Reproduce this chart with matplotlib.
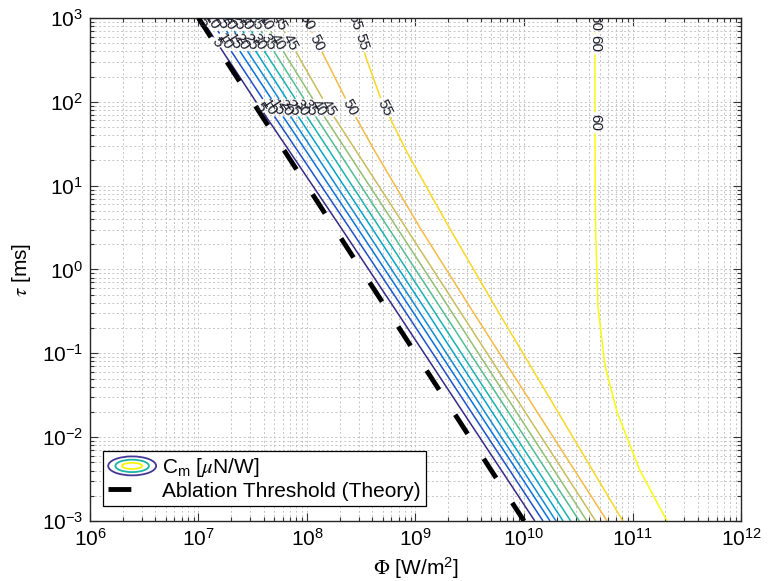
import numpy as np
import matplotlib
matplotlib.use("Agg")
import matplotlib.pyplot as plt
from matplotlib.colors import LinearSegmentedColormap
from matplotlib.legend_handler import HandlerBase
from matplotlib.patches import Ellipse, Patch
from matplotlib.ticker import FixedLocator, NullFormatter, LogFormatterMathtext

plt.rcParams["font.family"] = ["Liberation Sans", "DejaVu Sans"]
plt.rcParams["mathtext.fontset"] = "stix"
plt.rcParams["mathtext.default"] = "regular"

# ---------------------------------------------------------------------------
# Data: coupling-coefficient iso-lines C_m [uN/W] over intensity Phi and pulse
# duration tau.  Each list gives log10(Phi [W/m^2]) where the iso-line crosses
# the pulse durations in tau_rows_log (log10 of tau in ms).
# ---------------------------------------------------------------------------
cm_levels = [5, 10, 15, 20, 25, 30, 35, 40, 45, 50, 55, 60]
tau_rows_log = [-3.0, -2.4, -1.7, -1.15, -0.45, 0.5, 1.4, 2.0, 2.5, 3.0]

cm05 = [10.100, 9.794, 9.437, 9.157, 8.800, 8.312, 7.844, 7.530, 7.275, 7.020]
cm10 = [10.175, 9.870, 9.514, 9.235, 8.879, 8.390, 7.922, 7.610, 7.355, 7.100]
cm15 = [10.240, 9.936, 9.581, 9.303, 8.948, 8.462, 7.999, 7.690, 7.435, 7.180]
cm20 = [10.295, 9.992, 9.639, 9.361, 9.008, 8.526, 8.066, 7.760, 7.505, 7.250]
cm25 = [10.360, 10.058, 9.706, 9.429, 9.077, 8.595, 8.136, 7.830, 7.580, 7.330]
cm30 = [10.430, 10.128, 9.776, 9.499, 9.147, 8.668, 8.214, 7.910, 7.660, 7.410]
cm35 = [10.510, 10.208, 9.856, 9.579, 9.227, 8.748, 8.294, 7.990, 7.745, 7.500]
cm40 = [10.580, 10.280, 9.930, 9.655, 9.305, 8.828, 8.373, 8.070, 7.830, 7.590]
cm45 = [10.660, 10.360, 10.010, 9.735, 9.385, 8.910, 8.460, 8.160, 7.940, 7.720]
cm50 = [10.765, 10.468, 10.121, 9.849, 9.502, 9.040, 8.630, 8.370, 8.175, 7.980]
cm55 = [10.910, 10.634, 10.312, 10.059, 9.737, 9.310, 8.920, 8.690, 8.550, 8.430]
cm60 = [11.318, 11.069, 10.857, 10.747, 10.682, 10.660, 10.655, 10.654, 10.654, 10.654]
cm_curves = [cm05, cm10, cm15, cm20, cm25, cm30, cm35, cm40, cm45, cm50, cm55, cm60]

# theoretical ablation threshold
tau_threshold = [1e3, 1e-3]   # ms
phi_threshold = [1e7, 1e10]   # W/m^2

# axis decades
phi_decades = [6, 7, 8, 9, 10, 11, 12]
tau_decades = [-3, -2, -1, 0, 1, 2, 3]

# where the inline level labels sit (log10 tau)
label_rows = [2.95, 2.71, 1.93]
label_rows_60 = [2.95, 2.69, 1.75]

# ---------------------------------------------------------------------------
# MATLAB parula colour map
parula_pts = [
    [0.2081, 0.1663, 0.5292], [0.1959, 0.2645, 0.7279], [0.0117, 0.3875, 0.8820],
    [0.0498, 0.4586, 0.8641], [0.0793, 0.5200, 0.8312], [0.0343, 0.5966, 0.8199],
    [0.0228, 0.6535, 0.7768], [0.0843, 0.6928, 0.7062], [0.2178, 0.7250, 0.6193],
    [0.3953, 0.7459, 0.5244], [0.5709, 0.7485, 0.4494], [0.7184, 0.7411, 0.3905],
    [0.8507, 0.7299, 0.3360], [0.9739, 0.7314, 0.2666], [0.9880, 0.8066, 0.1794],
    [0.9598, 0.9218, 0.0948], [0.9763, 0.9831, 0.0538]]
parula_pos = [i * 4 / 63 for i in range(16)] + [1.0]
parula = LinearSegmentedColormap.from_list("parula", list(zip(parula_pos, parula_pts)))

# ---------------------------------------------------------------------------
# Build the C_m surface on a log grid so that each level passes through its
# tabulated crossings.
log_tau = np.linspace(-3, 3, 601)
log_phi = np.linspace(6, 12, 1201)
thr_log_tau = np.log10(tau_threshold)[::-1]
thr_log_phi = np.log10(phi_threshold)[::-1]
Z = np.empty((log_tau.size, log_phi.size))
for i, t in enumerate(log_tau):
    s_thr = np.interp(t, thr_log_tau, thr_log_phi)
    nodes = [s_thr] + [np.interp(t, tau_rows_log, c) for c in cm_curves] + [12.5]
    vals = [0.0] + list(cm_levels) + [70.0]
    Z[i] = np.interp(log_phi, nodes, vals)
PHI, TAU = np.meshgrid(10 ** log_phi, 10 ** log_tau)

fig = plt.figure(figsize=(7.69, 5.81), dpi=100)
ax = fig.add_axes([0.117, 0.1033, 0.8466, 0.8657])
ax.set_xscale("log")
ax.set_yscale("log")

cs = ax.contour(PHI, TAU, Z, levels=cm_levels, cmap=parula, vmin=5, vmax=60,
                linewidths=1.1, zorder=2)

# inline labels
pts = []
for lev, curve in zip(cm_levels, cm_curves):
    rows = label_rows_60 if lev == 60 else label_rows
    for t in rows:
        pts.append((10 ** np.interp(t, tau_rows_log, curve), 10 ** t))
ax.clabel(cs, manual=pts, inline=True, inline_spacing=2, fontsize=11,
          colors="#1c1c2a", fmt="%d")

thr_line, = ax.plot(phi_threshold, tau_threshold, color="k", lw=3.5,
                    dashes=(4.7, 6.1), zorder=3)

ax.set_xlim(1e6, 1e12)
ax.set_ylim(1e-3, 1e3)


def decade_ticks(decades):
    major = [10.0 ** d for d in decades]
    minor = [k * 10.0 ** d for d in decades[:-1] for k in range(2, 10)]
    return major, minor


for axis, decades in ((ax.xaxis, phi_decades), (ax.yaxis, tau_decades)):
    major, minor = decade_ticks(decades)
    axis.set_major_locator(FixedLocator(major))
    axis.set_minor_locator(FixedLocator(minor))
    axis.set_major_formatter(LogFormatterMathtext())
    axis.set_minor_formatter(NullFormatter())

ax.grid(True, which="both", linestyle=(0, (2.0, 2.5)), color="#c4c4c4", linewidth=0.7)
ax.set_axisbelow(True)
ax.tick_params(which="both", direction="in", top=True, right=True,
               color="#333333", width=0.8, labelsize=15, pad=5)
ax.tick_params(which="major", length=6)
ax.tick_params(which="minor", length=3)
for sp in ax.spines.values():
    sp.set_color("#262626")
    sp.set_linewidth(1.0)

ax.set_xlabel(r"$\mathrm{\Phi}$ [W/m$^{2}$]", fontsize=15, labelpad=4)
ax.set_ylabel(r"$\mathit{\tau}$ [ms]", fontsize=15, labelpad=6)


class NestedEllipses(HandlerBase):
    def create_artists(self, legend, orig_handle, xdescent, ydescent, width,
                       height, fontsize, trans):
        cx = 0.5 * width - xdescent
        cy = 0.5 * height - ydescent
        rings = ((1.0, 1.3, (0.27, 0.22, 0.58)), (0.7, 0.85, (0.12, 0.70, 0.64)),
                 (0.42, 0.42, (0.98, 0.95, 0.05)))
        out = []
        for fw, fh, col in rings:
            out.append(Ellipse((cx, cy), fw * width, fh * height, fill=False,
                               edgecolor=col, linewidth=1.3, transform=trans))
        return out


leg = ax.legend([Patch(), thr_line],
                [r"C$_{m}$ [$\mathit{\mu}$N/W]", "Ablation Threshold (Theory)"],
                handler_map={Patch: NestedEllipses()},
                loc="lower left", bbox_to_anchor=(0.02, 0.03), borderaxespad=0,
                frameon=True, fancybox=False, edgecolor="k", framealpha=1,
                fontsize=15, handlelength=2.3, handletextpad=0.3,
                borderpad=0.25, labelspacing=0.12)
leg.get_frame().set_linewidth(0.9)

fig.savefig("out.png", dpi=100)
